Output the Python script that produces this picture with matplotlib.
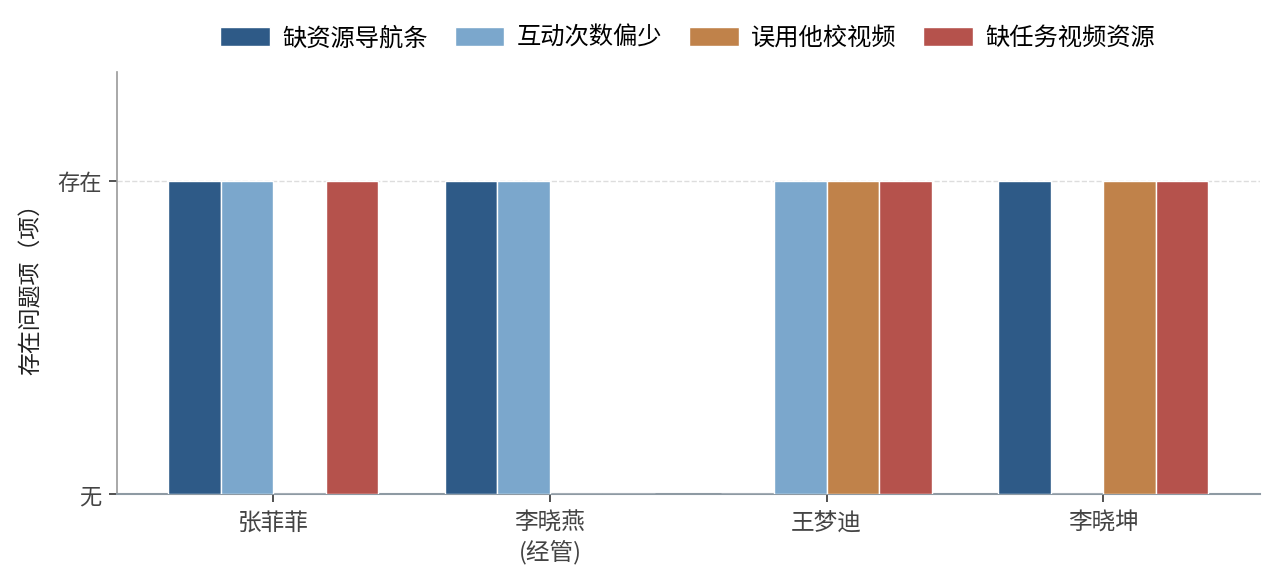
import numpy as np
import matplotlib.pyplot as plt

plt.rcParams['font.family'] = ['Noto Sans CJK SC', 'DejaVu Sans']

# Data: 1 = problem present, 0 = none
teachers = ["张菲菲", "李晓燕\n(经管)", "王梦迪", "李晓坤"]
series_names = ["缺资源导航条", "互动次数偏少", "误用他校视频", "缺任务视频资源"]
missing_nav = [1, 1, 0, 1]
few_interact = [1, 1, 1, 0]
other_video = [0, 0, 1, 1]
missing_task = [1, 0, 1, 1]
colors = ["#2E5A87", "#7BA7CC", "#C0824A", "#B5524C"]

series = [missing_nav, few_interact, other_video, missing_task]

fig = plt.figure(figsize=(12.78, 5.86), dpi=100)
ax = fig.add_axes([0.0915, 0.157, 0.8945, 0.72])

x = np.arange(len(teachers))
width = 0.19
for i, (vals, name, c) in enumerate(zip(series, series_names, colors)):
    offset = (i - 1.5) * width
    ax.bar(x + offset, vals, width, color=c, edgecolor="white", linewidth=1, label=name, zorder=3)

ax.set_xlim(-0.565, 3.567)
ax.set_ylim(0, 1.35)
ax.set_xticks(x)
ax.set_xticklabels(teachers, fontsize=17, color="#444444", linespacing=1.25)
ax.set_yticks([0, 1])
ax.set_yticklabels(["无", "存在"], fontsize=16, color="#444444")
ax.set_ylabel("存在问题项（项）", fontsize=16.5, color="#222222", labelpad=10)

ax.axhline(1, color="#DDDDDD", linestyle="--", linewidth=1, zorder=1)

for s in ["top", "right"]:
    ax.spines[s].set_visible(False)
ax.spines["left"].set_color("#999999")
ax.spines["bottom"].set_color("#8E9AA3")
ax.spines["left"].set_linewidth(1.2)
ax.spines["bottom"].set_linewidth(1.5)
ax.tick_params(axis="both", length=6, width=1.2, color="#333333")
ax.tick_params(axis="x", pad=7)
ax.tick_params(axis="y", pad=5)

fig.legend(loc="center", bbox_to_anchor=(0.538, 0.935), ncol=4, frameon=False,
           fontsize=17.5, handlelength=2.05, handleheight=0.8, handletextpad=0.5,
           columnspacing=1.1)

fig.savefig("out.png", dpi=100)
